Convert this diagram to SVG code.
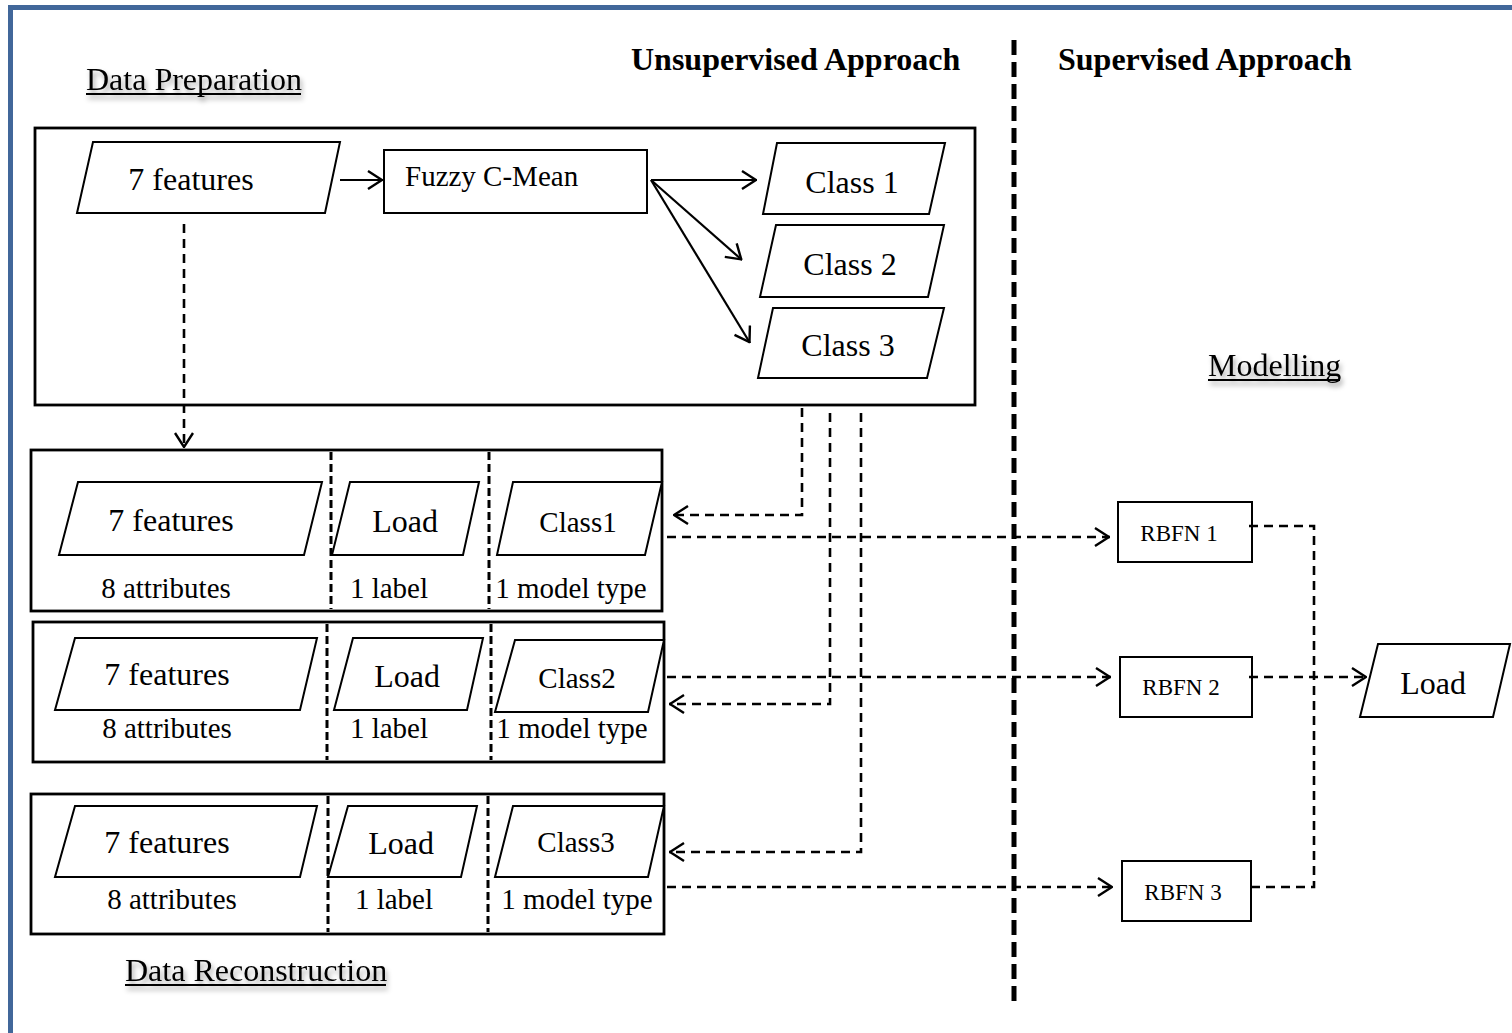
<svg xmlns="http://www.w3.org/2000/svg" width="1512" height="1033" viewBox="0 0 1512 1033">
  <style>
    .txt { font-family: "Liberation Serif", "Times New Roman", serif; fill: #000; }
    .lg { font-size: 32px; }
    .md { font-size: 29px; }
    .sm { font-size: 23px; }
    .hd { font-size: 32px; font-weight: bold; }
    .box { fill: #fff; stroke: #000; stroke-width: 2; }
    .frame { fill: none; stroke: #000; stroke-width: 2.8; }
    .solid { fill: none; stroke: #000; stroke-width: 2.2; }
    .dash { fill: none; stroke: #000; stroke-width: 2.6; stroke-dasharray: 9 6; }
    .div { fill: none; stroke: #000; stroke-width: 3; stroke-dasharray: 8 4; }
    .sep { fill: none; stroke: #000; stroke-width: 5; stroke-dasharray: 15 7; }
    .ul { stroke: #000; stroke-width: 2; }
  </style>
  <defs>
    <marker id="arrow" viewBox="0 0 16 20" refX="16" refY="10" markerWidth="16" markerHeight="20" markerUnits="userSpaceOnUse" orient="auto">
      <path d="M1,1 L15,10 L1,19" fill="none" stroke="#000" stroke-width="2.4"/>
    </marker>
    <filter id="shadow" x="-10%" y="-30%" width="130%" height="180%">
      <feDropShadow dx="2" dy="4" stdDeviation="2.5" flood-color="#000" flood-opacity="0.35"/>
    </filter>
  </defs>

  <rect width="1512" height="1033" fill="#fff"/>
  <!-- page border -->
  <rect x="10.5" y="7.5" width="1520" height="1050" fill="none" stroke="#41679A" stroke-width="5"/>

  <!-- section headings -->
  <g id="headings">
    <g filter="url(#shadow)">
      <text class="txt lg" x="86" y="90">Data Preparation</text>
      <line class="ul" x1="86" y1="94" x2="301" y2="94"/>
    </g>
    <g filter="url(#shadow)">
      <text class="txt lg" x="1208" y="376">Modelling</text>
      <line class="ul" x1="1208" y1="380" x2="1340" y2="380"/>
    </g>
    <g filter="url(#shadow)">
      <text class="txt lg" x="125" y="981">Data Reconstruction</text>
      <line class="ul" x1="125" y1="985" x2="386" y2="985"/>
    </g>
    <text class="txt hd" x="631" y="70">Unsupervised Approach</text>
    <text class="txt hd" x="1058" y="70">Supervised Approach</text>
  </g>

  <!-- split between unsupervised and supervised parts -->
  <line class="sep" x1="1014" y1="40" x2="1014" y2="1006"/>

  <!-- clustering stage -->
  <rect id="prep-frame" class="frame" x="35" y="128" width="940" height="277"/>
  <g id="features-in">
    <polygon class="box" points="93,142 340,142 325,213 77,213"/>
    <text class="txt lg" x="191" y="190" text-anchor="middle">7 features</text>
  </g>
  <g id="fcm">
    <rect class="box" x="384" y="150" width="263" height="63"/>
    <text class="txt md" x="405" y="186">Fuzzy C-Mean</text>
  </g>
  <g id="class1">
    <polygon class="box" points="777,143 945,143 929,214 763,214"/>
    <text class="txt lg" x="852" y="193" text-anchor="middle">Class 1</text>
  </g>
  <g id="class2">
    <polygon class="box" points="776,225 944,225 928,297 760,297"/>
    <text class="txt lg" x="850" y="275" text-anchor="middle">Class 2</text>
  </g>
  <g id="class3">
    <polygon class="box" points="773,308 944,308 927,378 758,378"/>
    <text class="txt lg" x="848" y="356" text-anchor="middle">Class 3</text>
  </g>

  <!-- reconstructed data sets -->
  <g id="set1">
    <rect class="frame" x="31" y="450" width="631" height="161"/>
    <line class="div" x1="331" y1="452" x2="331" y2="609"/>
    <line class="div" x1="489" y1="452" x2="489" y2="609"/>
    <polygon class="box" points="78,482 322,482 304,555 59,555"/>
    <text class="txt lg" x="171" y="531" text-anchor="middle">7 features</text>
    <text class="txt md" x="166" y="598" text-anchor="middle">8 attributes</text>
    <polygon class="box" points="350,482 479,482 463,555 332,555"/>
    <text class="txt lg" x="405" y="532" text-anchor="middle">Load</text>
    <text class="txt md" x="389" y="598" text-anchor="middle">1 label</text>
    <polygon class="box" points="513,482 662,482 645,555 497,555"/>
    <text class="txt md" x="578" y="532" text-anchor="middle">Class1</text>
    <text class="txt md" x="571" y="598" text-anchor="middle">1 model type</text>
  </g>
  <g id="set2">
    <rect class="frame" x="33" y="622" width="631" height="140"/>
    <line class="div" x1="327" y1="624" x2="327" y2="760"/>
    <line class="div" x1="491" y1="624" x2="491" y2="760"/>
    <polygon class="box" points="75,638 317,638 300,710 55,710"/>
    <text class="txt lg" x="167" y="685" text-anchor="middle">7 features</text>
    <text class="txt md" x="167" y="738" text-anchor="middle">8 attributes</text>
    <polygon class="box" points="353,638 483,638 467,710 334,710"/>
    <text class="txt lg" x="407" y="687" text-anchor="middle">Load</text>
    <text class="txt md" x="389" y="738" text-anchor="middle">1 label</text>
    <polygon class="box" points="515,640 664,640 648,712 495,712"/>
    <text class="txt md" x="577" y="688" text-anchor="middle">Class2</text>
    <text class="txt md" x="572" y="738" text-anchor="middle">1 model type</text>
  </g>
  <g id="set3">
    <rect class="frame" x="31" y="794" width="633" height="140"/>
    <line class="div" x1="328" y1="796" x2="328" y2="932"/>
    <line class="div" x1="488" y1="796" x2="488" y2="932"/>
    <polygon class="box" points="75,806 317,806 300,877 55,877"/>
    <text class="txt lg" x="167" y="853" text-anchor="middle">7 features</text>
    <text class="txt md" x="172" y="909" text-anchor="middle">8 attributes</text>
    <polygon class="box" points="348,806 477,806 461,877 328,877"/>
    <text class="txt lg" x="401" y="854" text-anchor="middle">Load</text>
    <text class="txt md" x="394" y="909" text-anchor="middle">1 label</text>
    <polygon class="box" points="513,806 664,806 648,877 495,877"/>
    <text class="txt md" x="576" y="852" text-anchor="middle">Class3</text>
    <text class="txt md" x="577" y="909" text-anchor="middle">1 model type</text>
  </g>

  <!-- network models -->
  <g id="rbfn1">
    <rect class="box" x="1118" y="502" width="134" height="60"/>
    <text class="txt sm" x="1179" y="541" text-anchor="middle">RBFN 1</text>
  </g>
  <g id="rbfn2">
    <rect class="box" x="1120" y="657" width="132" height="60"/>
    <text class="txt sm" x="1181" y="695" text-anchor="middle">RBFN 2</text>
  </g>
  <g id="rbfn3">
    <rect class="box" x="1122" y="861" width="129" height="60"/>
    <text class="txt sm" x="1183" y="900" text-anchor="middle">RBFN 3</text>
  </g>
  <g id="load-out">
    <polygon class="box" points="1378,644 1510,644 1493,717 1360,717"/>
    <text class="txt lg" x="1433" y="694" text-anchor="middle">Load</text>
  </g>

  <g id="connectors">
    <!-- clustering -->
    <line class="solid" x1="340" y1="180" x2="383" y2="180" marker-end="url(#arrow)"/>
    <line class="solid" x1="651" y1="180" x2="757" y2="180" marker-end="url(#arrow)"/>
    <line class="solid" x1="651" y1="180" x2="742" y2="260" marker-end="url(#arrow)"/>
    <line class="solid" x1="651" y1="180" x2="750" y2="343" marker-end="url(#arrow)"/>
    <!-- features copied into each set -->
    <line class="dash" x1="184" y1="224" x2="184" y2="448" marker-end="url(#arrow)"/>
    <!-- class labels attached to the sets -->
    <polyline class="dash" points="802,408 802,515 673,515" marker-end="url(#arrow)"/>
    <polyline class="dash" points="830,413 830,704 669,704" marker-end="url(#arrow)"/>
    <polyline class="dash" points="861,413 861,852 669,852" marker-end="url(#arrow)"/>
    <!-- sets to models -->
    <line class="dash" x1="667" y1="537" x2="1110" y2="537" marker-end="url(#arrow)"/>
    <line class="dash" x1="667" y1="677" x2="1111" y2="677" marker-end="url(#arrow)"/>
    <line class="dash" x1="667" y1="887" x2="1113" y2="887" marker-end="url(#arrow)"/>
    <!-- models to load -->
    <polyline class="dash" points="1249,526 1314,526 1314,887 1248,887"/>
    <line class="dash" x1="1249" y1="677" x2="1367" y2="677" marker-end="url(#arrow)"/>
  </g>
</svg>
